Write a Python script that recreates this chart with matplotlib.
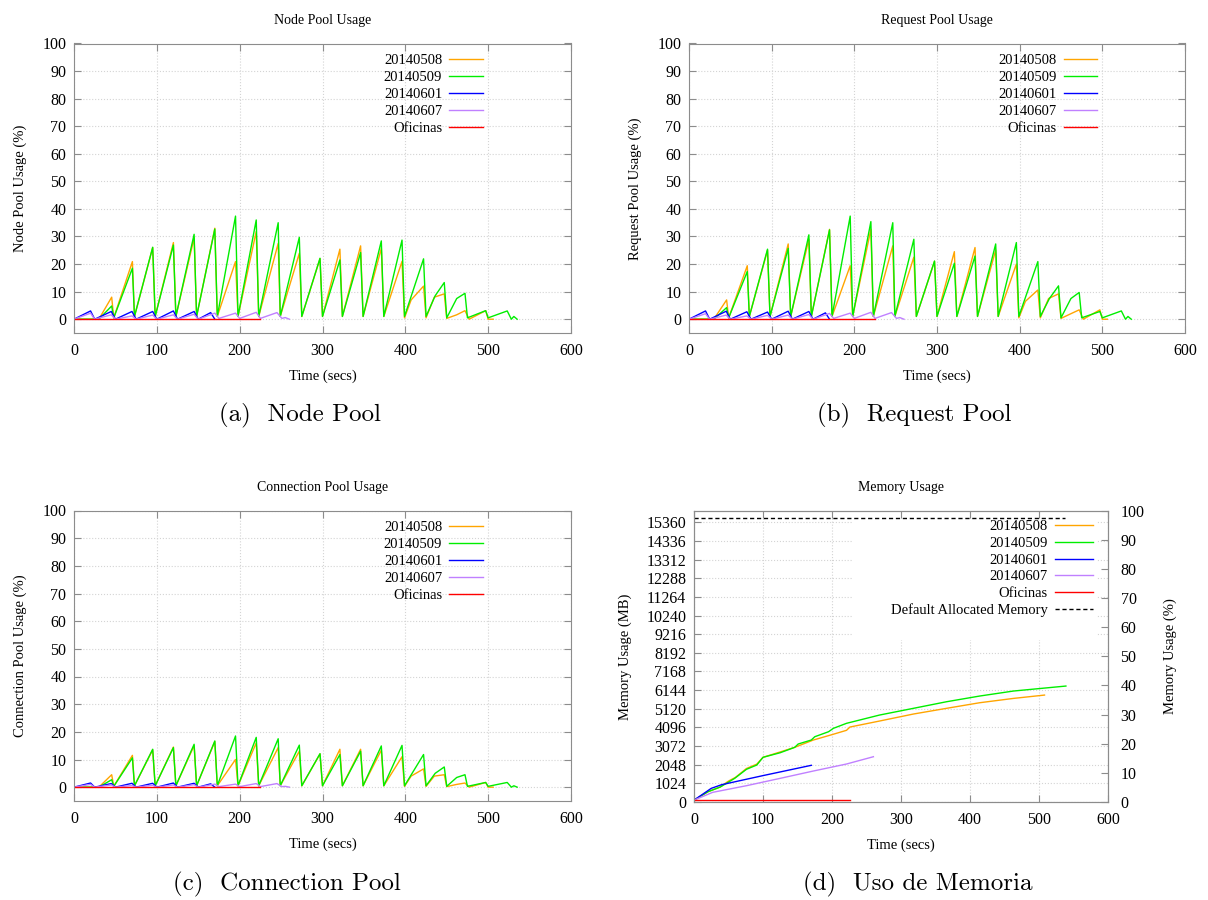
import numpy as np
import matplotlib
matplotlib.use("Agg")
import matplotlib.pyplot as plt
from matplotlib.patches import Rectangle

plt.rcParams['font.family'] = ['Liberation Serif', 'DejaVu Serif']

# ---- data ----
runs = ['20140508', '20140509', '20140601', '20140607', 'Oficinas']
colors = ['#ffa500', '#00ee00', '#0000ff', '#c080ff', '#ff0000']

# sample times (secs) per run
t_0508 = [0, 30, 45.5, 48, 70.5, 73, 95, 98, 120, 123, 145, 148, 170, 173, 195, 198, 220, 223,
          246.5, 249, 272, 275, 297, 300, 321, 324, 346, 349, 371, 374, 396, 399, 407, 422, 425,
          435, 447, 450, 462, 472, 477, 497, 500, 506]
t_0509 = [0, 30, 45.5, 48, 70.5, 73, 95, 98, 120, 123, 145, 148, 170, 173, 195, 198, 220, 223,
          246.5, 249, 272, 275, 297, 300, 321, 324, 346, 349, 371, 374, 396, 399, 422, 425, 436,
          447, 450, 462, 472, 475, 497, 500, 523, 528, 531, 535]
t_0601 = [0, 20, 25, 45, 50, 70, 75, 95, 100, 120, 125, 145, 150, 165, 170]
t_0607 = [0, 20, 25, 45, 50, 70, 75, 95, 100, 120, 125, 145, 150, 170, 175, 195, 200, 220, 225,
          245, 251, 255, 260]
t_ofi = [0, 225]

# Node pool usage (%)
node_0508 = [0, 0, 8, 0.5, 20.9, 1, 26, 1, 27.8, 1, 29.5, 1, 33, 1, 20.9, 1, 31.8, 1, 27.5, 1,
             23.9, 1, 22, 1, 25.4, 1, 26.6, 1, 25.7, 1, 21, 0.5, 7, 12, 0.5, 8, 9.2, 0.3, 1.6,
             3.1, 0, 3.1, 0, 0]
node_0509 = [0, 0, 4.8, 0.5, 18.5, 1, 26.1, 1, 26.9, 1, 30.8, 1, 32.7, 1, 37.4, 1, 36, 1, 35, 1,
             29.7, 1, 22.1, 1, 21.5, 1, 24.2, 1, 28.4, 1, 28.7, 1, 21.9, 1, 8.5, 13.3, 0.5, 7.5,
             9.4, 0.5, 3.1, 0.5, 3, 0, 1, 0]
node_0601 = [0, 3, 0, 2.8, 0, 2.8, 0, 2.8, 0, 3, 0, 2.8, 0, 2.4, 0]
node_0607 = [0, 2.2, 0, 1.6, 0, 1.2, 0, 1.5, 0, 1.6, 0, 1.8, 0, 2.2, 0.3, 2.2, 0.3, 2.5, 0.3,
             2.4, 0.3, 0.6, 0]
node_ofi = [0, 0]

# Request pool usage (%)
req_0508 = [0, 0, 7, 0.5, 19.4, 1, 25, 1, 27.3, 1, 29, 1, 32.6, 1, 19.4, 1, 32.6, 1, 26.6, 1,
            22.5, 1, 21, 1, 24.5, 1, 26, 1, 25.1, 1, 20, 0.5, 6.5, 10.6, 0.5, 7.5, 9.2, 0.3, 2,
            3.4, 0, 3.4, 0, 0]
req_0509 = [0, 0, 4.2, 0.5, 17.3, 1, 25.4, 1, 25.7, 1, 30.6, 1, 32.4, 1, 37.4, 1, 35.4, 1, 35, 1,
            29, 1, 21.1, 1, 20.3, 1, 22.9, 1, 27.3, 1, 27.8, 1, 20.9, 1, 7.5, 12.1, 0.5, 7.5,
            9.7, 0.5, 2.8, 0.5, 3, 0, 1, 0]
req_0601 = [0, 3, 0, 2.9, 0, 2.7, 0, 2.6, 0, 2.9, 0, 2.8, 0, 2.3, 0]
req_0607 = [0, 2, 0, 1.5, 0, 1.2, 0, 1.4, 0, 1.5, 0, 1.7, 0, 2.1, 0.3, 2.2, 0.3, 2.5, 0.3,
            2.4, 0.3, 0.6, 0]
req_ofi = [0, 0]

# Connection pool usage (%)
conn_0508 = [0, 0, 4.5, 0.3, 11.5, 0.5, 13.5, 0.5, 14.5, 0.5, 15, 0.5, 16.5, 0.5, 10, 0.5, 16,
             0.5, 14.3, 0.5, 13, 0.5, 12, 0.5, 13.7, 0.5, 13.7, 0.5, 13.4, 0.5, 11, 0.3, 4, 6.6,
             0.3, 4, 4.5, 0.2, 1, 1.5, 0, 1.7, 0, 0]
conn_0509 = [0, 0, 2.7, 0.3, 10.6, 0.5, 13.7, 0.5, 14.3, 0.5, 15.5, 0.5, 16.7, 0.5, 18.5, 0.5, 18,
             0.5, 17.5, 0.5, 15.2, 0.5, 12.1, 0.5, 11.8, 0.5, 13, 0.5, 14.9, 0.5, 15.1, 0.5, 11.8,
             0.5, 5, 7.3, 0.3, 3.5, 4.5, 0.3, 1.7, 0.3, 1.7, 0, 0.5, 0]
conn_0601 = [0, 1.5, 0, 1.3, 0, 1.4, 0, 1.4, 0, 1.5, 0, 1.4, 0, 1.2, 0]
conn_0607 = [0, 1, 0, 0.8, 0, 0.6, 0, 0.7, 0, 0.8, 0, 0.9, 0, 1.1, 0.2, 1.1, 0.2, 1.3, 0.2,
             1.3, 0.2, 0.3, 0]
conn_ofi = [0, 0]

# Memory usage (MB)
mem_t_0508 = [0, 20, 38, 50, 60, 76, 91, 100, 125, 146, 173, 200, 221, 226, 269, 318, 366, 414, 463, 508]
mem_0508 = [100, 560, 830, 1150, 1350, 1840, 2080, 2454, 2750, 3003, 3404, 3700, 3937, 4118,
            4448, 4832, 5145, 5452, 5690, 5873]
mem_t_0509 = [0, 20, 38, 59, 76, 91, 100, 125, 146, 151, 170, 175, 195, 202, 221, 269, 318, 366, 414, 463, 539]
mem_0509 = [100, 560, 820, 1300, 1795, 2031, 2454, 2707, 3003, 3185, 3404, 3585, 3860, 4046,
            4321, 4777, 5145, 5507, 5820, 6095, 6369]
mem_t_0601 = [0, 25, 40, 100, 170]
mem_0601 = [100, 750, 950, 1450, 2015]
mem_t_0607 = [0, 27, 76, 125, 173, 221, 260]
mem_0607 = [100, 530, 895, 1300, 1702, 2086, 2487]
mem_t_ofi = [0, 226]
mem_ofi = [120, 120]
default_t = [0, 537]
default_mem = [15625, 15625]

pool_times = [t_0508, t_0509, t_0601, t_0607, t_ofi]
pools = [
    ('Node Pool Usage', 'Node Pool Usage (%)', [node_0508, node_0509, node_0601, node_0607, node_ofi]),
    ('Request Pool Usage', 'Request Pool Usage (%)', [req_0508, req_0509, req_0601, req_0607, req_ofi]),
    ('Connection Pool Usage', 'Connection Pool Usage (%)', [conn_0508, conn_0509, conn_0601, conn_0607, conn_ofi]),
]
mem_times = [mem_t_0508, mem_t_0509, mem_t_0601, mem_t_0607, mem_t_ofi]
mem_vals = [mem_0508, mem_0509, mem_0601, mem_0607, mem_ofi]

captions = ['(a)  Node Pool', '(b)  Request Pool', '(c)  Connection Pool', '(d)  Uso de Memoria']
caption_xy = [(300, 415), (914, 415), (287, 884), (918, 884)]

W, H = 1208, 900
border = '#8c8c8c'
fs = 10.5
tick_fs = 11.5


def px_axes(l, t, r, b):
    return [l / W, 1 - b / H, (r - l) / W, (b - t) / H]


def style(ax):
    for s in ax.spines.values():
        s.set_color(border)
    ax.tick_params(direction='in', length=5, color=border, top=True, right=True,
                   labelsize=tick_fs)
    ax.tick_params(axis='x', pad=7)
    ax.tick_params(axis='y', pad=5.5)
    ax.grid(True, color='#d4d4d4', linestyle=':', linewidth=0.8)


fig = plt.figure(figsize=(W / 100, H / 100), dpi=100)

boxes = [(74, 43.5, 571, 333), (689, 43.5, 1185, 333), (74, 510.5, 571, 801)]
for (title, ylab, series), box in zip(pools, boxes):
    ax = fig.add_axes(px_axes(*box))
    for t, v, name, c in zip(pool_times, series, runs, colors):
        ax.plot(t, v, color=c, lw=1.0, label=name)
    ax.set_xlim(0, 600)
    ax.set_ylim(-5, 100)
    ax.set_xticks(np.arange(0, 601, 100))
    ax.set_yticks(np.arange(0, 101, 10))
    style(ax)
    ax.set_title(title, fontsize=10, pad=14)
    ax.set_xlabel('Time (secs)', fontsize=fs, labelpad=7.5)
    ax.set_ylabel(ylab, fontsize=fs, labelpad=11)
    ax.legend(loc='upper right', bbox_to_anchor=(0.823, 0.965), frameon=False,
              markerfirst=False, fontsize=fs, handlelength=2.3, handletextpad=0.5,
              labelspacing=0.27, borderpad=0, borderaxespad=0)

# memory panel
ax = fig.add_axes(px_axes(694, 510.7, 1108, 802))
ax.add_patch(Rectangle((0.384, 0.556), 0.589, 0.416, transform=ax.transAxes,
                       facecolor='white', edgecolor='none', zorder=1.8))
for t, v, name, c in zip(mem_times, mem_vals, runs, colors):
    ax.plot(t, v, color=c, lw=1.0, label=name)
ax.plot(default_t, default_mem, color='black', lw=1.0, ls=(0, (3, 2)),
        label='Default Allocated Memory')
ax.set_xlim(0, 600)
ax.set_ylim(0, 16000)
ax.set_xticks(np.arange(0, 601, 100))
ax.set_yticks(np.arange(0, 15361, 1024))
style(ax)
ax.set_title('Memory Usage', fontsize=10, pad=14)
ax.set_xlabel('Time (secs)', fontsize=fs, labelpad=7.5)
ax.set_ylabel('Memory Usage (MB)', fontsize=fs, labelpad=10)
ax.legend(loc='upper right', bbox_to_anchor=(0.964, 0.968), frameon=False,
          markerfirst=False, fontsize=fs, handlelength=2.6, handletextpad=0.5,
          labelspacing=0.24, borderpad=0, borderaxespad=0)
ax2 = ax.twinx()
ax2.set_ylim(0, 100)
ax2.set_yticks(np.arange(0, 101, 10))
for s in ax2.spines.values():
    s.set_color(border)
ax2.tick_params(direction='in', length=5, color=border, labelsize=tick_fs, pad=9)
ax2.set_ylabel('Memory Usage (%)', fontsize=fs, labelpad=14)

for text, (x, y) in zip(captions, caption_xy):
    fig.text(x / W, 1 - y / H, text, ha='center', va='center', fontsize=18, family='cmr10')

fig.savefig('out.png', dpi=100)
